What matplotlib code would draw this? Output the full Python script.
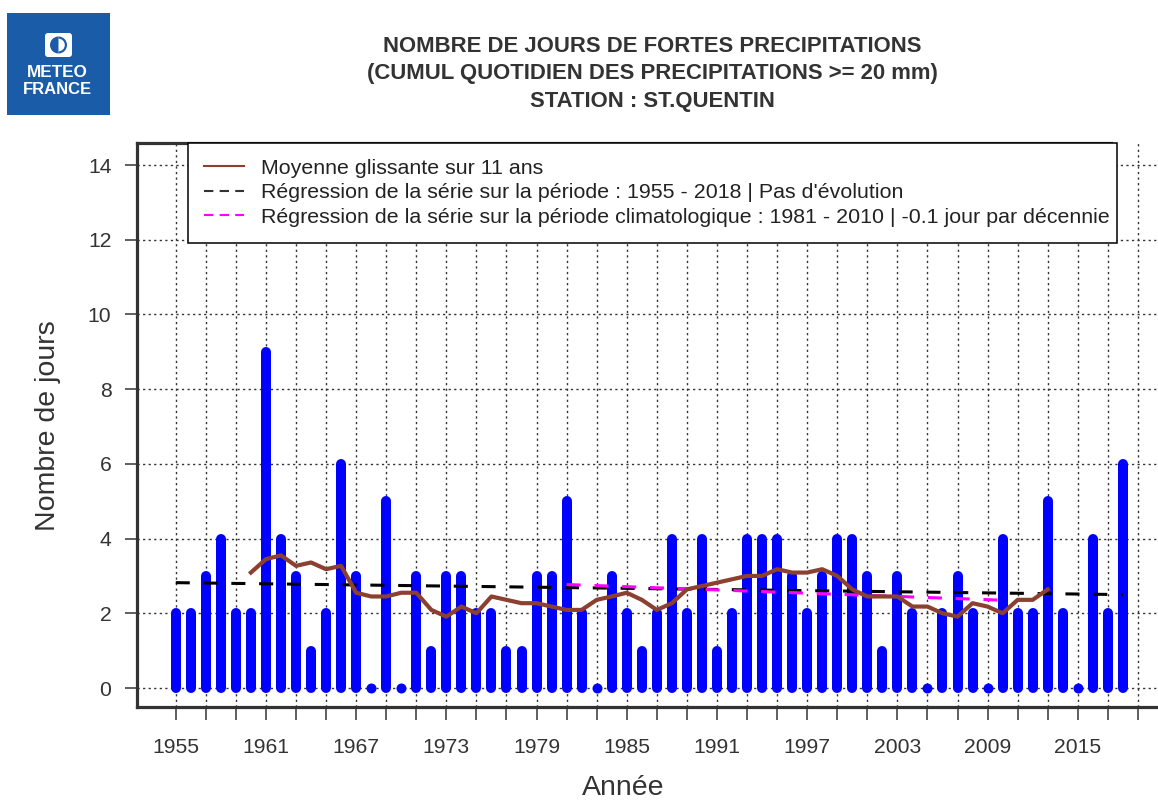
import matplotlib
matplotlib.use('Agg')
import matplotlib.pyplot as plt
from matplotlib.lines import Line2D
from matplotlib.patches import Rectangle, FancyBboxPatch, Wedge

plt.rcParams['font.family'] = ['Liberation Sans', 'DejaVu Sans']

# ---------------- data ----------------
years = list(range(1955, 2019))
jours = [2, 2, 3, 4, 2, 2, 9, 4, 3, 1, 2, 6, 3, 0, 5, 0, 3, 1, 3, 3,
         2, 2, 1, 1, 3, 3, 5, 2, 0, 3, 2, 1, 2, 4, 2, 4, 1, 2, 4, 4, 4, 3,
         2, 3, 4, 4, 3, 1, 3, 2, 0, 2, 3, 2, 0, 4, 2, 2, 5, 2, 0, 4, 2, 6]

ma_years = list(range(1960, 2014))
ma_values = [3.09, 3.45, 3.55, 3.27, 3.36, 3.18, 3.27, 2.55, 2.45, 2.45,
             2.55, 2.55, 2.09, 1.91, 2.18, 2.00, 2.45, 2.36, 2.27, 2.27,
             2.18, 2.09, 2.09, 2.36, 2.45, 2.55, 2.36, 2.09, 2.27, 2.64,
             2.73, 2.82, 2.91, 3.00, 3.00, 3.18, 3.09, 3.09, 3.18, 3.00,
             2.64, 2.45, 2.45, 2.45, 2.18, 2.18, 2.00, 1.91, 2.27, 2.18,
             2.00, 2.36, 2.36, 2.64]

reg_years = [1955, 2018]
reg_values = [2.82, 2.50]
clim_years = [1981, 2010]
clim_values = [2.77, 2.35]

yticks = [0, 2, 4, 6, 8, 10, 12, 14]
xtick_years = list(range(1955, 2022, 2))
xlabel_years = list(range(1955, 2016, 6))

title_lines = ["NOMBRE DE JOURS DE FORTES PRECIPITATIONS",
               "(CUMUL QUOTIDIEN DES PRECIPITATIONS >= 20 mm)",
               "STATION : ST.QUENTIN"]
legend_labels = ["Moyenne glissante sur 11 ans",
                 "Régression de la série sur la période : 1955 - 2018 | Pas d'évolution",
                 "Régression de la série sur la période climatologique : 1981 - 2010 | -0.1 jour par décennie"]

# ---------------- layout ----------------
W, H = 1158, 800
fig = plt.figure(figsize=(W / 100, H / 100), dpi=100)
fig.patch.set_facecolor('white')

ax_l, ax_r, ax_t, ax_b = 137, 1168, 143, 707
ax = fig.add_axes([ax_l / W, 1 - ax_b / H, (ax_r - ax_l) / W, (ax_b - ax_t) / H])

px_year = 15.14
x0 = 1955 - (176 - ax_l) / px_year
x1 = x0 + (ax_r - ax_l) / px_year
ax.set_xlim(x0, x1)
px_unit = (688 - 165) / 14.0
ax.set_ylim(-(ax_b - 688) / px_unit, 14 + (165 - ax_t) / px_unit)

BLUE = '#0000FF'
BROWN = '#8B4030'
MAG = '#FF00FF'
TXT = '#333333'

# bars (thick lines with round ends)
ax.vlines(years, 0, jours, colors=BLUE, linewidth=7.2, capstyle='round', zorder=3)
zeros = [y for y, v in zip(years, jours) if v == 0]
ax.scatter(zeros, [0] * len(zeros), s=52, color=BLUE, linewidths=0, zorder=3)

# regression lines
ax.plot(reg_years, reg_values, color='black', lw=2.2, ls=(0, (4.6, 4.5)), zorder=4)
ax.plot(clim_years, clim_values, color=MAG, lw=2.2, ls=(0, (4.6, 4.5)), zorder=4)
# moving average
ax.plot(ma_years, ma_values, color=BROWN, lw=3.0, solid_joinstyle='round', zorder=5)

# grid & ticks
ax.set_xticks(xtick_years)
ax.set_xticklabels([str(y) if y in xlabel_years else '' for y in xtick_years])
ax.set_yticks(yticks)
ax.set_yticklabels([str(v) for v in yticks])
ax.grid(True, color='#333333', linestyle=(0, (1.6, 2.4)), linewidth=1.0)
ax.set_axisbelow(True)
ax.tick_params(axis='both', direction='out', length=9, width=1.2, color='#444444',
               labelsize=15.2, labelcolor=TXT)
ax.tick_params(axis='x', pad=13)
ax.tick_params(axis='y', pad=9.4)

for s in ['left', 'bottom', 'top']:
    ax.spines[s].set_linewidth(2.3)
    ax.spines[s].set_color('#333333')
ax.spines['right'].set_visible(False)
ax.spines['top'].set_bounds(x0, x0 + (1118 - ax_l) / px_year)

# legend
handles = [Line2D([], [], color=BROWN, lw=1.5),
           Line2D([], [], color='#333333', lw=1.5, ls=(0, (4.5, 3))),
           Line2D([], [], color=MAG, lw=1.5, ls=(0, (4.5, 3)))]
leg = ax.legend(handles, legend_labels, loc='upper left', mode='expand',
                bbox_to_anchor=(188 / W, 1 - 242 / H, (1117 - 188) / W, 99 / H),
                bbox_transform=fig.transFigure, borderaxespad=0, fontsize=15.4,
                handlelength=1.88, handletextpad=0.8, borderpad=0.74,
                labelspacing=0.26, fancybox=False, framealpha=1, edgecolor='black')
leg.get_frame().set_linewidth(1.1)
for t in leg.get_texts():
    t.set_color('#222222')
leg.set_zorder(6)

# axis labels
fig.text(48 / W, 1 - 426 / H, 'Nombre de jours', rotation=90, ha='center', va='center',
         fontsize=20.5, color=TXT)
fig.text(623 / W, 1 - 795 / H, 'Année', ha='center', va='baseline', fontsize=20.5, color=TXT)

# title
for line, yb in zip(title_lines, [52, 79.5, 107]):
    fig.text(652 / W, 1 - yb / H, line, ha='center', va='baseline', fontsize=15.9,
             fontweight='bold', color=TXT)

# logo
LOGO_BLUE = '#1B5CA8'
lax = fig.add_axes([7 / W, 1 - 115 / H, 103 / W, 102 / H])
lax.set_xlim(0, 103)
lax.set_ylim(102, 0)
lax.axis('off')
lax.add_patch(Rectangle((0, 0), 103, 102, facecolor=LOGO_BLUE, edgecolor='none'))
lax.add_patch(FancyBboxPatch((38, 20), 27, 24, boxstyle='round,pad=0,rounding_size=3',
                             facecolor='white', edgecolor='none'))
lax.add_patch(Wedge((51.5, 32), 8.5, 90, 270, facecolor=LOGO_BLUE, edgecolor='none'))
lax.add_patch(Wedge((51.5, 32), 8.5, 270, 90, width=2.2, facecolor=LOGO_BLUE, edgecolor='none'))
lax.text(50.5, 59.5, 'METEO', color='white', fontweight='bold', fontsize=12.3,
         ha='center', va='center')
lax.text(50.5, 76.5, 'FRANCE', color='white', fontweight='bold', fontsize=12.0,
         ha='center', va='center')

fig.savefig('out.png', dpi=100, facecolor='white')
